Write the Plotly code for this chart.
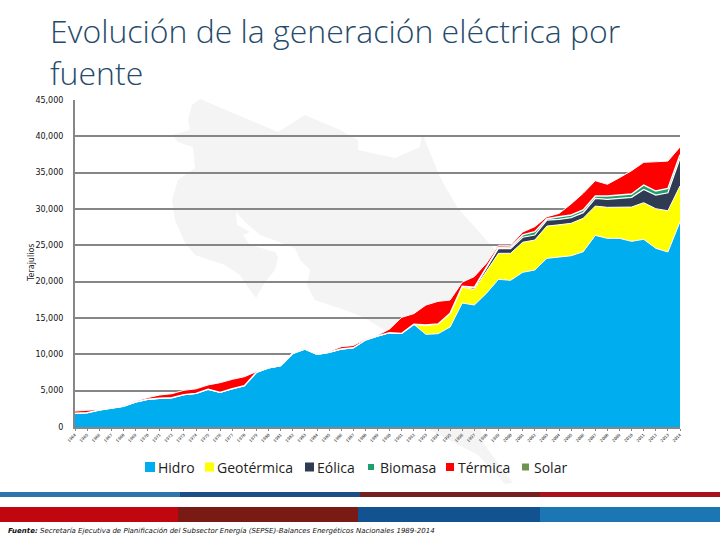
import plotly.graph_objects as go

years = list(range(1964, 2015))
hidro = [1885,1970,2340,2570,2850,3440,3810,3950,4030,4450,4630,5190,4770,5270,5680,7530,8130,8440,10130,10730,10000,10280,10730,10910,11970,12520,12980,12890,14130,12750,12840,13760,17060,16790,18400,20320,20190,21290,21600,23210,23430,23570,24120,26370,25960,25960,25550,25830,24590,24080,28250]
geotermica = [0]*28 + [0,1280,1330,1880,2160,2160,2980,3580,3715,4130,4130,4440,4400,4460,4600,4030,4270,4270,4720,5040,5450,5680,4910]
eolica = [0]*32 + [100,200,400,690,640,690,690,825,730,780,780,1060,1100,1190,1330,1830,1880,2480,3810]
biomasa = [0]*32 + [60,80,120,140,230,320,460,180,370,370,370,320,460,460,460,600,550,590,500]
termica = [300,300,80,80,100,130,230,450,550,600,620,600,1330,1290,1240,100,60,60,100,60,50,100,320,300,100,100,500,2200,1470,2750,3120,1830,550,1470,640,275,230,410,690,280,460,1510,2290,2110,1610,2430,3210,3120,4080,3760,1060]
solar = [0]*51
names = ["Hidro", "Geotérmica", "Eólica", "Biomasa", "Térmica", "Solar"]
colors = ["#00aeef", "#ffff00", "#2f3b52", "#1f9e6e", "#ff0000", "#70934f"]
series = [hidro, geotermica, eolica, biomasa, termica, solar]
y_ticks = list(range(0, 45001, 5000))
title_text = "Evolución de la generación eléctrica por<br>fuente"
source_bold = "<b><i>Fuente:</i></b>"
source_text = "<i>Secretaría Ejecutiva de Planificación del Subsector Energía (SEPSE)-Balances Energéticos Nacionales 1989-2014</i>"

W, H = 720, 540
L, T, PW, PH = 75, 100, 605, 327
def fx(x): return (x - L) / PW
def fy(y): return (T + PH - y) / PH

map_pts = [(200,99),(192,105),(188,120),(190,130),(172,135),(178,142),(193,147),(195,168),(178,180),(172,200),(175,220),(185,243),(195,255),(225,265),(240,275),(250,290),(256,298),(265,282),(275,270),(278,258),(275,252),(250,245),(243,235),(250,232),(237,225),(236,212),(245,222),(260,235),(295,248),(300,260),(310,270),(307,285),(315,300),(345,310),(365,318),(392,335),(430,430),(478,455),(505,484),(513,483),(483,443),(480,427),(510,290),(498,253),(480,233),(457,207),(440,177),(425,140),(422,133),(420,147),(395,158),(358,150),(358,140),(340,130),(305,115),(278,132)]

fig = go.Figure()
line_widths = [1, 1, 1.2, 1.4, 1, 0]
for name, color, vals, lw in zip(names, colors, series, line_widths):
    fig.add_trace(go.Scatter(
        x=years, y=vals, name=name, mode="lines", stackgroup="one",
        fillcolor=color, showlegend=False,
        line=dict(color="white", width=lw),
    ))

shapes = []
bands = [
    (492, 497, [(0,180,"#2e75ad"),(180,360,"#1c4f86"),(360,540,"#75201f"),(540,720,"#ab1119")]),
    (507, 522, [(0,178,"#c0070f"),(178,358,"#7a1a15"),(358,540,"#125291"),(540,720,"#1b76b3")]),
]
for y0, y1, segs in bands:
    for x0, x1, c in segs:
        shapes.append(dict(type="rect", xref="paper", yref="paper", layer="above",
                           x0=fx(x0), x1=fx(x1), y0=fy(y1), y1=fy(y0),
                           fillcolor=c, line=dict(width=0)))
shapes.append(dict(type="path", xref="paper", yref="paper", layer="below",
                   path="M " + " L ".join(f"{fx(x):.5f},{fy(y):.5f}" for x, y in map_pts) + " Z",
                   fillcolor="#f4f4f4", line=dict(width=0)))

annotations = [
    dict(text=title_text, xref="paper", yref="paper", x=fx(48), y=fy(51),
         xanchor="left", yanchor="middle", align="left", showarrow=False,
         font=dict(family="Open Sans", size=32, color="#264a6b", weight=300)),
    dict(text="Terajulios", xref="paper", yref="paper", x=fx(31), y=fy(263),
         xanchor="center", yanchor="middle",
         textangle=-90, showarrow=False, font=dict(family="DejaVu Sans", size=8, color="#222222")),
    dict(text=source_bold + " " + source_text, xref="paper", yref="paper", x=fx(6), y=fy(531),
         xanchor="left", yanchor="middle", showarrow=False,
         font=dict(family="DejaVu Sans", size=7, color="#111111")),
]

legend_swatch = [(145,155), (205,214), (305,314), (368,374), (446,454), (522,529)]
legend_text_x = [158, 217, 317, 380, 458, 534]
for name, color, (sx0, sx1), tx in zip(names, colors, legend_swatch, legend_text_x):
    h = (sx1 - sx0) / 2
    shapes.append(dict(type="rect", xref="paper", yref="paper", layer="above",
                       x0=fx(sx0), x1=fx(sx1), y0=fy(467 + h), y1=fy(467 - h),
                       fillcolor=color, line=dict(width=0)))
    annotations.append(dict(text=name, xref="paper", yref="paper", x=fx(tx), y=fy(467),
                            xanchor="left", yanchor="middle", showarrow=False, xshift=-2,
                            font=dict(family="Open Sans", size=14, color="#222222")))

fig.update_layout(
    width=W, height=H, autosize=False,
    margin=dict(l=L, r=W-L-PW, t=T, b=H-T-PH),
    paper_bgcolor="white", plot_bgcolor="rgba(0,0,0,0)",
    shapes=shapes, annotations=annotations,
    showlegend=False,
    xaxis=dict(range=[1964, 2014], tickmode="array", tickvals=years, ticktext=[str(y) for y in years],
               tickangle=-45, tickfont=dict(family="DejaVu Sans", size=4, color="#111111"),
               ticks="outside", ticklen=2, tickcolor="#868686", tickwidth=1,
               showgrid=False, showline=True, linecolor="#868686", linewidth=2, zeroline=False),
    yaxis=dict(range=[0, 45000], tickmode="array", tickvals=y_ticks, tickformat=",",
               tickfont=dict(family="DejaVu Sans", size=8, color="#111111"),
               ticks="", ticklabelstandoff=8,
               showgrid=True, gridcolor="#868686", gridwidth=2,
               showline=True, linecolor="#868686", linewidth=2, zeroline=False),
)
fig.write_html("out.html", post_script="document.body.style.margin='0';", config={"displayModeBar": False})
